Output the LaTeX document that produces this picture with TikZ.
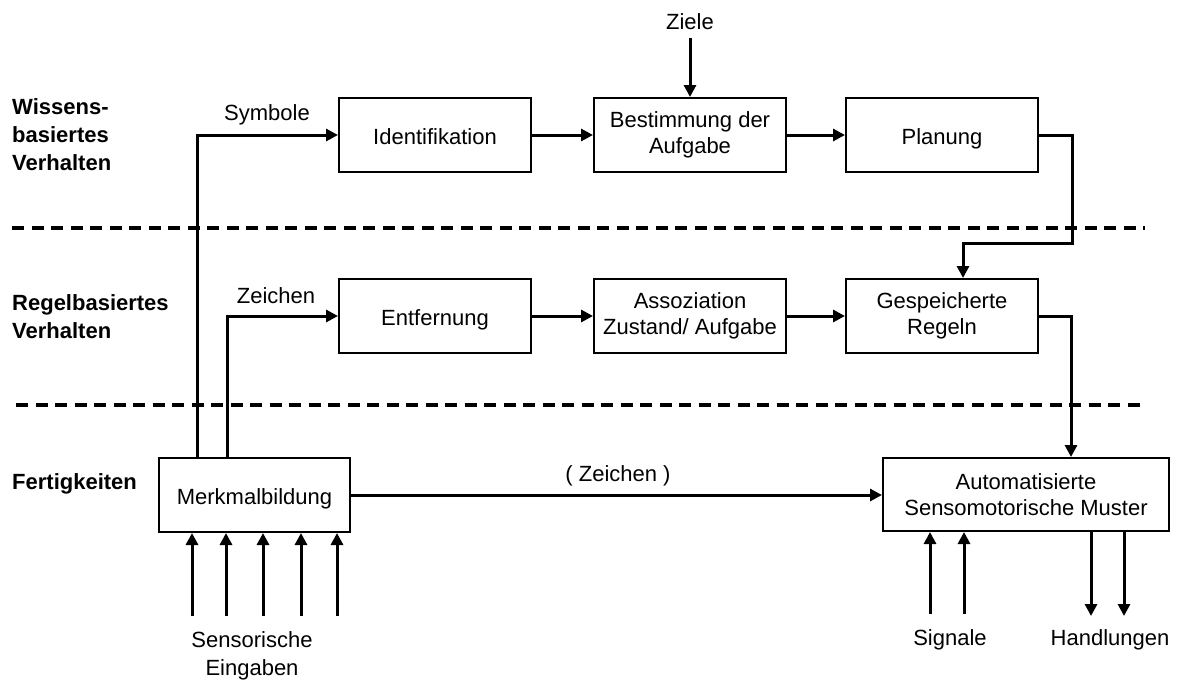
\documentclass[tikz,border=0pt]{standalone}
\usepackage{fontspec}
\setmainfont{Liberation Sans}
\usetikzlibrary{arrows.meta}
\begin{document}
\begin{tikzpicture}[x=1pt,y=-1pt,
  every node/.style={font=\fontsize{22}{26}\selectfont},
  box/.style={draw,line width=2pt,minimum width=192pt,minimum height=74pt,align=center,inner sep=0pt},
  oneline/.style={text height=18pt,text depth=0pt},
  arr/.style={line width=3pt,-{Triangle[length=12pt,width=12pt]}},
  layer/.style={line width=3.3pt,dash pattern=on 12pt off 7.5pt},
  lvl/.style={font=\fontsize{22}{28}\selectfont\bfseries,align=left,anchor=west,inner sep=0pt},
  lbl/.style={inner sep=0pt,align=center},
  biglbl/.style={inner sep=0pt,align=center,font=\fontsize{22}{28}\selectfont}]
\useasboundingbox (0,0) rectangle (1177,680);

% layer separators
\draw[layer] (12,228) -- (1145,228);
\draw[layer] (16,405) -- (1145,405);

% level names
\node[lvl] (lk) at (12,135) {Wissens-\\basiertes\\Verhalten};
\node[lvl] (lr) at (12,317) {Regelbasiertes\\Verhalten};
\node[lvl] (lf) at (12,484) {Fertigkeiten};

% knowledge-based row
\node[box,oneline] (ident) at (435,135) {Identifikation};
\node[box] (best) at (690,135) {Bestimmung der\\Aufgabe};
\node[box,oneline] (plan) at (942,135) {Planung};
\node[lbl] (ziele) at (690,22) {Ziele};

% rule-based row
\node[box,oneline] (entf) at (435,316) {Entfernung};
\node[box] (asso) at (690,316) {Assoziation\\Zustand/ Aufgabe};
\node[box] (gesp) at (942,316) {Gespeicherte\\Regeln};

% skill-based row
\node[box,oneline,minimum width=191pt] (merk) at (254.5,495) {Merkmalbildung};
\node[box,minimum width=286pt,minimum height=73pt] (auto) at (1026,494.5) {Automatisierte\\Sensomotorische Muster};

% flow labels
\node[lbl] (symb) at (267,115) {Symbole};
\node[lbl] (zei) at (276,296) {Zeichen};
\node[lbl] (zei2) at (618,476) {( Zeichen )};
\node[biglbl] (sens) at (252,656) {Sensorische\\Eingaben};
\node[lbl] (sig) at (950,640) {Signale};
\node[lbl] (hand) at (1110,640) {Handlungen};

% connectors
\draw[arr] ([yshift=-8pt]ziele.south) -- (best.north);
\draw[arr] (ident) -- (best);
\draw[arr] (best) -- (plan);
\draw[arr] (entf) -- (asso);
\draw[arr] (asso) -- (gesp);
\coordinate (pk) at (1072,243);
\draw[arr] (plan.east) -| (pk) -| ([xshift=21pt]gesp.north);
\draw[arr] (gesp.east) -| ([xshift=45pt]auto.north);
\draw[arr] ([xshift=-57.5pt]merk.north) |- (ident.west);
\draw[arr] ([xshift=-27.5pt]merk.north) |- (entf.west);
\draw[arr] (merk.east) -- (auto.west |- merk.east);

% sensory inputs
\foreach \dx in {-62.5,-28.5,8.5,46.5,82.5}
  \draw[arr] ([xshift=\dx pt,yshift=-83pt]merk.south) -- ([xshift=\dx pt]merk.south);
% signals in, actions out
\foreach \dx in {-96,-62}
  \draw[arr] ([xshift=\dx pt,yshift=-82pt]auto.south) -- ([xshift=\dx pt]auto.south);
\foreach \dx in {65,98}
  \draw[arr] ([xshift=\dx pt]auto.south) -- ([xshift=\dx pt,yshift=-84pt]auto.south);
\end{tikzpicture}
\end{document}
